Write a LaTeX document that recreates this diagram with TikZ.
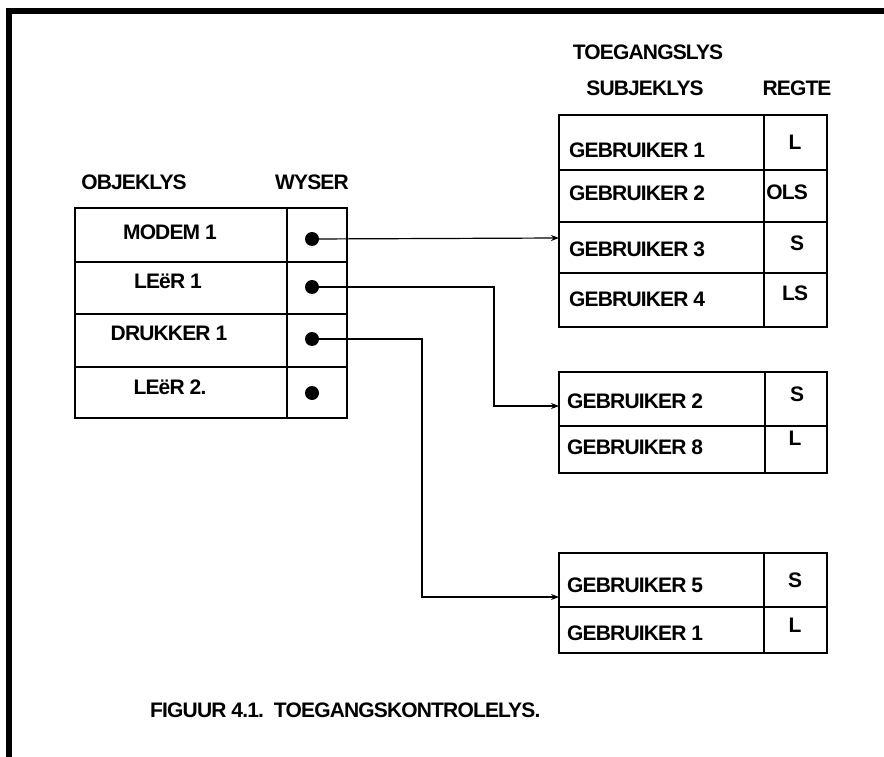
\documentclass[tikz,border=0pt]{standalone}
\usepackage{fontspec}
\setmainfont{Liberation Sans}[LetterSpace=-4]
\usetikzlibrary{arrows.meta}
\begin{document}
\begin{tikzpicture}[x=1pt,y=-1pt,
  lbl/.style={font=\fontsize{21}{23}\selectfont\bfseries, inner sep=0pt},
  grid/.style={line width=1.7pt},
  conn/.style={line width=1.2pt, -{Stealth[length=8pt,width=6pt]}},
  dotmark/.style={circle, fill=black, minimum size=14pt, inner sep=0pt}]
\useasboundingbox (0,0) rectangle (884,757);
% frame
\draw[line width=6pt] (8.5,757) -- (8.5,11) -- (884,11);

% left table
\draw[grid] (75,208) rectangle (347,418);
\draw[grid] (287,208) -- (287,418);
\foreach \y in {262,314,367} \draw[grid] (75,\y) -- (347,\y);
\node[lbl] (hobj) at (134,182) {OBJEKLYS};
\node[lbl] (hwys) at (312,182) {WYSER};
\node[lbl] (o1) at (170,232) {MODEM 1};
\node[lbl] (o2) at (168,281) {LEëR 1};
\node[lbl] (o3) at (169,333) {DRUKKER 1};
\node[lbl] (o4) at (170,387) {LEëR 2.};
\node[dotmark] (d1) at (312,239) {};
\node[dotmark] (d2) at (312,287) {};
\node[dotmark] (d3) at (312,339) {};
\node[dotmark] (d4) at (312,393) {};

% top right table
\node[lbl] (htoe) at (648,52) {TOEGANGSLYS};
\node[lbl] (hsub) at (645,88) {SUBJEKLYS};
\node[lbl] (hreg) at (797,88) {REGTE};
\draw[grid] (559,115) rectangle (827,327);
\draw[grid] (764,115) -- (764,327);
\foreach \y in {170,222,273} \draw[grid] (559,\y) -- (827,\y);
\node[lbl, anchor=west] (s1) at (569,150) {GEBRUIKER 1};
\node[lbl, anchor=west] (s2) at (569,193) {GEBRUIKER 2};
\node[lbl, anchor=west] (s3) at (569,249) {GEBRUIKER 3};
\node[lbl, anchor=west] (s4) at (569,299) {GEBRUIKER 4};
\node[lbl] (r1) at (795,142) {L};
\node[lbl] (r2) at (787,192) {OLS};
\node[lbl] (r3) at (797,243) {S};
\node[lbl] (r4) at (795,293) {LS};

% middle table
\draw[grid] (559,372) rectangle (827,473);
\draw[grid] (765,372) -- (765,473);
\draw[grid] (559,426) -- (827,426);
\node[lbl, anchor=west] (m1) at (567,401) {GEBRUIKER 2};
\node[lbl, anchor=west] (m2) at (567,447) {GEBRUIKER 8};
\node[lbl] (mr1) at (797,394) {S};
\node[lbl] (mr2) at (795,438) {L};

% bottom table
\draw[grid] (559,553) rectangle (827,653);
\draw[grid] (764,553) -- (764,653);
\draw[grid] (559,607) -- (827,607);
\node[lbl, anchor=west] (b1) at (567,585) {GEBRUIKER 5};
\node[lbl, anchor=west] (b2) at (567,633) {GEBRUIKER 1};
\node[lbl] (br1) at (795,580) {S};
\node[lbl] (br2) at (795,625) {L};

% connector targets
\coordinate (t1) at (559,238);
\coordinate (t2) at (559,406);
\coordinate (t3) at (559,597);
\draw[conn] (d1.center) -- (t1);
\draw[conn] (d2.center) -- (494,287) -- (494,406) -- (t2);
\draw[conn] (d3.center) -- (422,339) -- (422,597) -- (t3);

% caption
\node[lbl, anchor=west] (cap) at (150,710) {FIGUUR 4.1.\ \ TOEGANGSKONTROLELYS.};
\end{tikzpicture}
\end{document}
